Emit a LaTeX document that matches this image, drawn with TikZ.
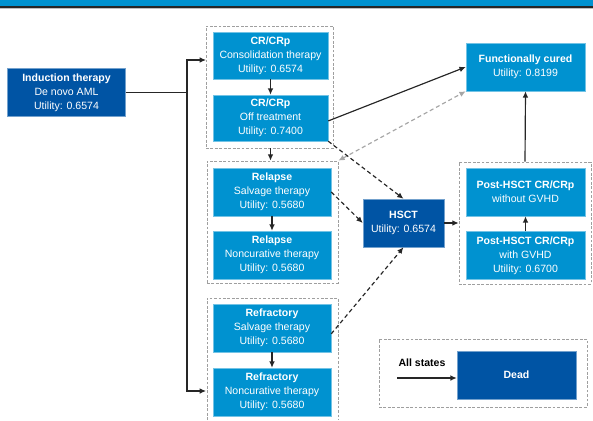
\documentclass[tikz,border=0pt]{standalone}
\usepackage{fontspec}
\setmainfont{Liberation Sans}
\usepackage{xcolor}
\usetikzlibrary{arrows.meta,positioning}
\definecolor{statecyan}{RGB}{0,146,208}
\definecolor{statenavy}{RGB}{0,84,164}
\tikzset{
  statebox/.style={fill=statecyan,draw=statecyan!55!white,line width=0.4pt,text=white,align=center,
    minimum width=3.54cm,minimum height=1.44cm,inner sep=1pt,font=\fontsize{9}{12}\selectfont},
  navybox/.style={statebox,fill=statenavy,draw=statenavy!55!white},
  groupbox/.style={draw=gray!75,dash pattern=on 2.4pt off 1.4pt,line width=0.6pt,minimum height=3.66cm},
  flowarrow/.style={-{Latex[length=1.9mm,width=1.7mm]},line width=1pt,draw=black!85},
  jumparrow/.style={flowarrow,dash pattern=on 3.5pt off 2.5pt},
  returnarrow/.style={{Latex[length=1.9mm,width=1.7mm]}-{Latex[length=1.9mm,width=1.7mm]},
    line width=1pt,draw=gray!70,dash pattern=on 3.5pt off 2.5pt}
}

\begin{document}
\begin{tikzpicture}[x=0.03cm,y=-0.03cm]
  \useasboundingbox (0,0) rectangle (593,420);
  \fill[statecyan] (0,0) rectangle (593,6.5);
  \draw[black!85,line width=0.9pt] (0,7) -- (593,7);
  \draw[gray!50,line width=0.4pt] (0,8.4) -- (593,8.4);

  \node[navybox] (induct) at (66.5,92.5)
    {\textbf{Induction therapy}\\De novo AML\\Utility: 0.6574};
  \node[statebox,minimum width=3.45cm,minimum height=1.41cm] (crcons) at (270.5,55.5)
    {\textbf{CR/CRp}\\Consolidation therapy\\Utility: 0.6574};
  \node[statebox,minimum width=3.45cm,minimum height=1.38cm] (croff) at (270.5,118)
    {\textbf{CR/CRp}\\Off treatment\\Utility: 0.7400};
  \node[statebox] (relsal) at (272,192)
    {\textbf{Relapse}\\Salvage therapy\\Utility: 0.5680};
  \node[statebox] (relnon) at (272,255)
    {\textbf{Relapse}\\Noncurative therapy\\Utility: 0.5680};
  \node[statebox] (refsal) at (272,328)
    {\textbf{Refractory}\\Salvage therapy\\Utility: 0.5680};
  \node[statebox] (refnon) at (272,392)
    {\textbf{Refractory}\\Noncurative therapy\\Utility: 0.5680};
  \node[navybox,minimum width=2.43cm] (hsct) at (403.5,223)
    {\textbf{HSCT}\\Utility: 0.6574};
  \node[statebox,minimum width=3.57cm] (postno) at (525.5,192)
    {\textbf{Post-HSCT CR/CRp}\\without GVHD};
  \node[statebox,minimum width=3.57cm] (postgv) at (525.5,255.5)
    {\textbf{Post-HSCT CR/CRp}\\with GVHD\\Utility: 0.6700};
  \node[statebox,minimum width=3.57cm] (cured) at (525.5,67)
    {\textbf{Functionally cured}\\Utility: 0.8199};
  \node[navybox,minimum width=3.57cm] (dead) at (516.5,375) {\textbf{Dead}};

  \node[groupbox,minimum width=3.81cm] (crgroup) at (269.5,87) {};
  \node[groupbox,minimum width=3.93cm] (relgroup) at (272.5,222) {};
  \draw[groupbox] (207,420) |- (338,298) -- (338,420);
  \node[groupbox,minimum width=3.96cm] (postgroup) at (525,223) {};
  \node[groupbox,minimum width=6.24cm,minimum height=2.04cm] (keygroup) at (483,373) {};

  \coordinate (split) at (187,92.5);
  \coordinate (crin) at (206,60);
  \coordinate (refin) at (206,391);
  \draw[line width=1pt,black!85] (induct.east) -- (split);
  \draw[flowarrow] (split) |- (crin);
  \draw[flowarrow] (split) |- (refin);

  \draw[flowarrow] (crcons) -- (croff);
  \draw[flowarrow] (crgroup.south -| croff) -- (relgroup.north -| croff);
  \draw[flowarrow] (relsal) -- (relnon);
  \draw[flowarrow] (refsal) -- (refnon);
  \draw[flowarrow] ([yshift=-2.5pt]croff.east) -- (cured.west);
  \draw[returnarrow] (relgroup.north east) -- (cured.south west);
  \draw[jumparrow] (croff.south east) -- (hsct.north);
  \draw[jumparrow] (relsal.east) -- (hsct.west);
  \draw[jumparrow] ([yshift=-5pt]refsal.east) -- (hsct.south);
  \draw[flowarrow] (hsct.east) -- (postgroup.west);
  \draw[flowarrow] (postgv) -- (postno);
  \draw[flowarrow] (postgroup.north) -- (cured.south);

  \node[font=\bfseries\fontsize{9}{12}\selectfont] (alllabel) at (422,363) {All states};
  \coordinate (allstart) at (397,378);
  \draw[flowarrow] (allstart) -- (dead.west |- allstart);
\end{tikzpicture}
\end{document}
